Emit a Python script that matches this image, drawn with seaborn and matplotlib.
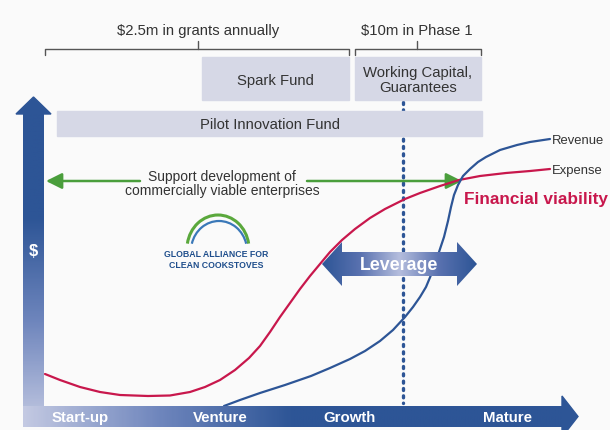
import numpy as np
import pandas as pd
import seaborn as sns
import matplotlib.pyplot as plt
from matplotlib.patches import Polygon, Rectangle, Arc
from matplotlib.colors import LinearSegmentedColormap

# chart values (in pixel units of the 610x431 canvas)
stage_labels = ['Start-up', 'Venture', 'Growth', 'Mature']
stage_x = [80, 220, 349, 507]

expense_x = [45, 60, 80, 100, 120, 148, 170, 190, 205, 220, 235, 249, 260, 270, 280, 290, 300,
             310, 320, 330, 342, 355, 370, 385, 405, 420, 440, 459, 480, 506, 530, 550]
expense_y = [375, 381, 388, 393, 396, 397, 396.5, 393, 388, 381, 371, 359, 347, 333, 318, 304, 290,
             277, 265, 253, 241, 230, 219, 210, 200, 194, 187, 181, 177, 174, 172, 170]

revenue_x = [224, 240, 260, 285, 311, 330, 350, 365, 380, 393, 405, 413, 420, 426, 431, 436, 440,
             444, 448, 451, 454, 458, 463, 470, 478, 486, 500, 517, 530, 550]
revenue_y = [407, 401, 394, 386, 377, 369, 360, 352, 342, 331, 318, 308, 298, 288, 276, 262, 250,
             238, 222, 208, 196, 186, 177, 170, 163, 158, 151, 146, 143, 140]

funding_labels = ['$2.5m in grants annually', '$10m in Phase 1']
fund_boxes = ['Spark Fund', 'Working Capital,\nGuarantees', 'Pilot Innovation Fund']

BLUE = '#2d5596'
RED = '#c8174c'
GREEN = '#4a9e3c'
BOX = '#d6d8e6'
TXT = '#333333'

sns.set_theme(style='white')
plt.rcParams['font.family'] = ['Liberation Sans', 'DejaVu Sans']

fig = plt.figure(figsize=(6.1, 4.31), dpi=100, facecolor='#fafafa')
ax = fig.add_axes([0, 0, 1, 1])
ax.set_facecolor('#fafafa')
ax.axis('off')

# brackets on top
for (x0, x1, xc), lab in zip([(45, 349, 198), (355, 481, 417)], funding_labels):
    ax.plot([x0, x0, x1, x1], [56, 50, 50, 56], color='#555555', lw=1)
    ax.plot([xc, xc], [50, 42], color='#555555', lw=1)
    ax.text(xc, 31, lab, ha='center', va='center', fontsize=10.7, color=TXT)

# dotted marker line
ax.plot([403, 403], [103, 404], color=BLUE, lw=2.4, linestyle=(0, (0.6, 1.6)),
        dash_capstyle='round', zorder=2)

# fund boxes
for (x0, y0, x1, y1), lab in zip([(202, 58, 349, 101), (355, 58, 481, 101), (57, 112, 482, 137)], fund_boxes):
    ax.add_patch(Rectangle((x0, y0), x1 - x0, y1 - y0, color=BOX, zorder=3))
    ax.text((x0 + x1) / 2, (y0 + y1) / 2 + 1, lab, ha='center', va='center', fontsize=10.7,
            color=TXT, linespacing=1.05, zorder=4)

# axes arrows with gradients
ycmap = LinearSegmentedColormap.from_list('yb', [BLUE, BLUE, '#6f86bd', '#c3c9e2'])
ax.imshow(np.linspace(0, 1, 200).reshape(-1, 1), extent=[23, 44, 428, 114], aspect='auto',
          cmap=ycmap, zorder=5, interpolation='bilinear')
ax.add_patch(Polygon([(16, 115), (33.5, 98), (51, 115)], color=BLUE, zorder=5))
xcmap = LinearSegmentedColormap.from_list('xb', ['#c3c9e2', '#6f86bd', BLUE, BLUE, BLUE])
ax.imshow(np.linspace(0, 1, 300).reshape(1, -1), extent=[23, 562.5, 428, 407], aspect='auto',
          cmap=xcmap, zorder=5, interpolation='bilinear')
ax.add_patch(Polygon([(562, 397), (578, 417.5), (562, 438)], color=BLUE, zorder=5))
ax.text(33.5, 252, '$', ha='center', va='center', fontsize=12, fontweight='bold', color='white', zorder=6)
for sx, lab in zip(stage_x, stage_labels):
    ax.text(sx, 418, lab, ha='center', va='center', fontsize=10.8, fontweight='bold', color='white', zorder=6)

# curves
curves = pd.concat([
    pd.DataFrame({'x': expense_x, 'y': expense_y, 'series': 'Expense'}),
    pd.DataFrame({'x': revenue_x, 'y': revenue_y, 'series': 'Revenue'}),
])
sns.lineplot(data=curves, x='x', y='y', hue='series', palette={'Expense': RED, 'Revenue': BLUE},
             sort=False, estimator=None, lw=1.6, legend=False, ax=ax, zorder=4)
ax.text(552, revenue_y[-1] + 1, 'Revenue', ha='left', va='center', fontsize=9.4, color=TXT)
ax.text(552, expense_y[-1] + 1, 'Expense', ha='left', va='center', fontsize=9.4, color=TXT)
ax.text(608, 200, 'Financial viability', ha='right', va='center', fontsize=12.4,
        fontweight='bold', color=RED)

# green double arrow
for tip, tail in [(46, 140), (462, 307)]:
    ax.annotate('', xy=(tip, 182), xytext=(tail, 182),
                arrowprops=dict(arrowstyle='-|>,head_length=0.8,head_width=0.4', color=GREEN,
                                lw=1.8, mutation_scale=12, shrinkA=0, shrinkB=0))
ax.text(222, 184, 'Support development of\ncommercially viable enterprises', ha='center', va='center',
        fontsize=10, color=TXT, linespacing=0.95)

# leverage arrow
lev = Polygon([(322, 265), (342, 243), (342, 253), (457, 253), (457, 243), (477, 265),
               (457, 287), (457, 277), (342, 277), (342, 287)], facecolor='none', edgecolor='none')
ax.add_patch(lev)
lcmap = LinearSegmentedColormap.from_list('lv', ['#b4bddd', '#5a72b0', BLUE])
grad = np.abs(np.linspace(-1, 1, 300)).reshape(1, -1)
im = ax.imshow(grad, extent=[322, 477, 287, 243], aspect='auto', cmap=lcmap, zorder=6,
               interpolation='bilinear')
im.set_clip_path(lev)
ax.text(399, 266, 'Leverage', ha='center', va='center', fontsize=12.8, fontweight='bold',
        color='white', zorder=7)

# logo
ax.add_patch(Arc((218, 250), 62, 68, theta1=190, theta2=350, color='#5aa83c', lw=2.2))
ax.add_patch(Arc((219, 252), 56, 60, theta1=195, theta2=345, color='#3a78b8', lw=1.6))
ax.text(216, 255, 'GLOBAL ALLIANCE FOR', ha='center', va='center', fontsize=6.3,
        fontweight='bold', color='#1f4e8c')
ax.text(216, 266, 'CLEAN COOKSTOVES', ha='center', va='center', fontsize=6.3,
        fontweight='bold', color='#1f4e8c')

ax.set_xlim(0, 610)
ax.set_ylim(431, 0)
fig.savefig('out.png', dpi=100, facecolor=fig.get_facecolor())
